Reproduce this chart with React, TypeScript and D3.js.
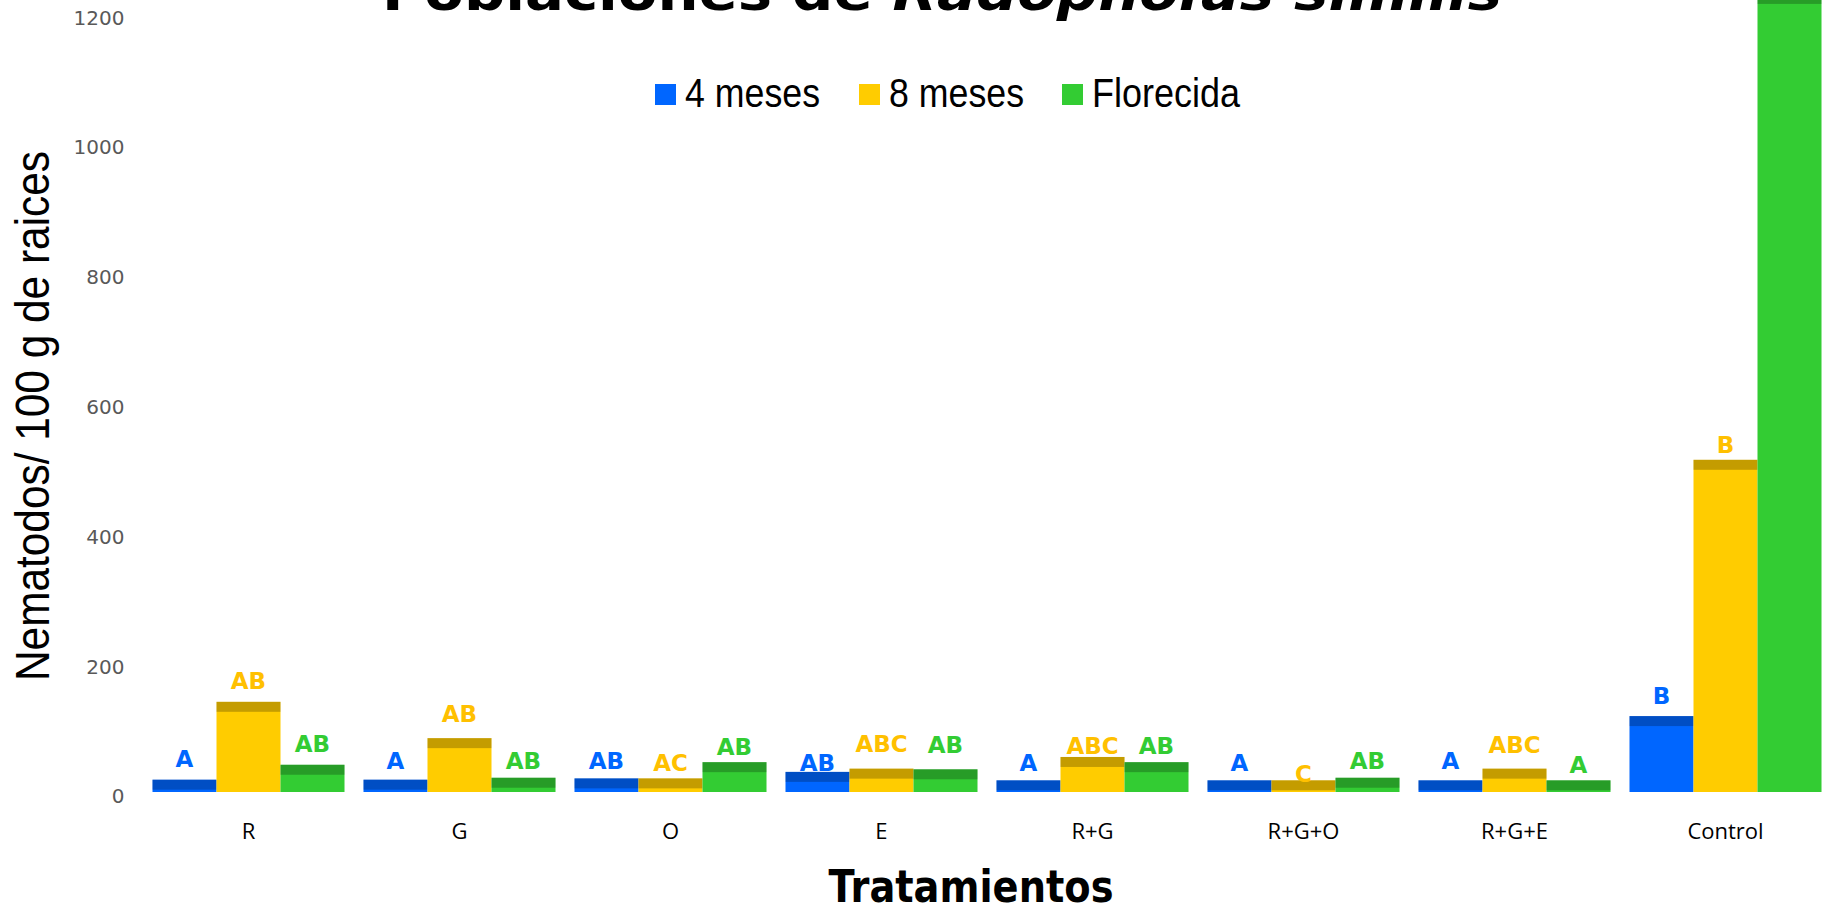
import React, { useEffect } from "react";
import * as d3 from "d3";

// Treatments along the x axis
const categories = ["R", "G", "O", "E", "R+G", "R+G+O", "R+G+E", "Control"];
const seriesNames = ["4 meses", "8 meses", "Florecida"];
const seriesColors = ["#0066FF", "#FFCC00", "#33CC33"];
const letterColors = ["#0066FF", "#FFC000", "#33CC33"];

// Nematodes per 100 g of roots
const meses4 = [19, 19, 21, 31, 18, 18, 18, 117];
const meses8 = [139, 83, 21, 36, 54, 18, 36, 512];
const florecida = [42, 22, 46, 35, 46, 22, 18, 1230];

// Significance letters and the height (in data units) where each sits
const letters4 = ["A", "A", "AB", "AB", "A", "A", "A", "B"];
const letters8 = ["AB", "AB", "AC", "ABC", "ABC", "C", "ABC", "B"];
const lettersF = ["AB", "AB", "AB", "AB", "AB", "AB", "A", ""];
const letterAt4 = [38, 35, 36, 33, 33, 33, 36, 135];
const letterAt8 = [158, 108, 33, 61, 58, 16, 60, 522];
const letterAtF = [62, 35, 57, 60, 58, 35, 29, 0];

const yTicks = [0, 200, 400, 600, 800, 1000, 1200];

const W = 1825;
const H = 910;

export default function App() {
  useEffect(() => {
    document.body.style.margin = "0";
  }, []);

  const values = [meses4, meses8, florecida];
  const letters = [letters4, letters8, lettersF];
  const letterAt = [letterAt4, letterAt8, letterAtF];

  const x0 = d3
    .scaleBand<string>()
    .domain(categories)
    .range([143, 1831])
    .paddingInner(0.09)
    .paddingOuter(0.045);
  const x1 = d3
    .scaleBand<string>()
    .domain(seriesNames)
    .range([0, x0.bandwidth()]);
  const y = d3.scaleLinear().domain([0, 1200]).range([792, 13.4]);

  const band = 10;
  const bw = x1.bandwidth();

  return (
    <svg
      width={W}
      height={H}
      style={{ position: "absolute", left: 0, top: 0, background: "#fff" }}
    >
      {/* title, partly above the visible area */}
      <text
        x={942}
        y={10}
        textAnchor="middle"
        fontFamily="DejaVu Sans"
        fontWeight="bold"
        fontSize={52}
        textLength={1120}
        lengthAdjust="spacingAndGlyphs"
        fill="#000"
      >
        <tspan>Poblaciones de </tspan>
        <tspan fontStyle="italic">Radopholus similis</tspan>
      </text>

      {/* legend */}
      {[
        { sx: 655, tx: 685, tl: 135 },
        { sx: 859, tx: 889, tl: 135 },
        { sx: 1062, tx: 1092, tl: 148 },
      ].map((l, i) => (
        <g key={seriesNames[i]}>
          <rect x={l.sx} y={84} width={21} height={21} fill={seriesColors[i]} />
          <text
            x={l.tx}
            y={106.7}
            fontFamily="Liberation Sans"
            fontSize={40}
            textLength={l.tl}
            lengthAdjust="spacingAndGlyphs"
            fill="#000"
          >
            {seriesNames[i]}
          </text>
        </g>
      ))}

      {/* y tick labels */}
      {yTicks.map((t) => (
        <text
          key={t}
          x={124.5}
          y={y(t) + 11.3}
          textAnchor="end"
          fontFamily="DejaVu Sans"
          fontSize={20}
          fill="#595959"
        >
          {t}
        </text>
      ))}

      {/* y axis title */}
      <text
        transform={`translate(49,416) rotate(-90)`}
        textAnchor="middle"
        fontFamily="Liberation Sans"
        fontSize={48}
        textLength={530}
        lengthAdjust="spacingAndGlyphs"
        fill="#000"
      >
        Nematodos/ 100 g de raices
      </text>

      {/* bars */}
      {categories.map((c, ci) => (
        <g key={c} transform={`translate(${x0(c)},0)`}>
          {seriesNames.map((s, si) => {
            const v = values[si][ci];
            const top = y(v);
            const h = y(0) - top;
            const bx = x1(s) as number;
            return (
              <g key={s}>
                <rect x={bx} y={top} width={bw} height={h} fill={seriesColors[si]} />
                <rect
                  x={bx}
                  y={top}
                  width={bw}
                  height={Math.min(band, h)}
                  fill="#000"
                  fillOpacity={0.23}
                />
              </g>
            );
          })}
          {seriesNames.map((s, si) =>
            letters[si][ci] ? (
              <text
                key={"l" + s}
                x={(x1(s) as number) + bw / 2}
                y={y(letterAt[si][ci])}
                textAnchor="middle"
                fontFamily="DejaVu Sans"
                fontWeight="bold"
                fontSize={23}
                fill={letterColors[si]}
              >
                {letters[si][ci]}
              </text>
            ) : null
          )}
          <text
            x={x0.bandwidth() / 2}
            y={839}
            textAnchor="middle"
            fontFamily="Open Sans"
            fontSize={22}
            fill="#000"
          >
            {c}
          </text>
        </g>
      ))}

      {/* x axis title */}
      <text
        x={971}
        y={902}
        textAnchor="middle"
        fontFamily="DejaVu Sans"
        fontWeight="bold"
        fontSize={45}
        textLength={285}
        lengthAdjust="spacingAndGlyphs"
        fill="#000"
      >
        Tratamientos
      </text>
    </svg>
  );
}
